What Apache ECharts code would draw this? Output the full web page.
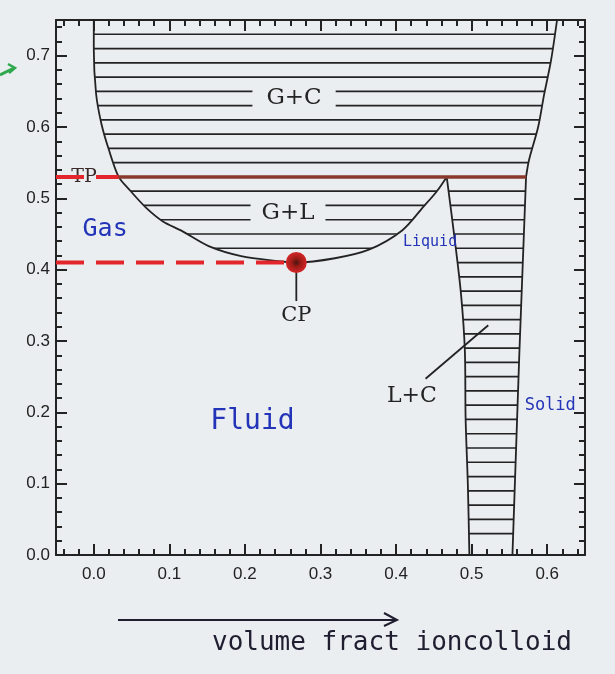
<!DOCTYPE html>
<html>
<head>
<meta charset="utf-8">
<script src="https://cdn.jsdelivr.net/npm/echarts@6/dist/echarts.min.js"></script>
<style>
  html, body { margin: 0; padding: 0; background: #eaeef0; }
  #chart { width: 615px; height: 674px; }
</style>
</head>
<body>
<div id="chart"></div>
<script>
// Axis ranges: x = colloid volume fraction, y = polymer concentration
const X_RANGE = [-0.05, 0.65];
const Y_RANGE = [0, 0.75];

const xTickValues = [0, 0.1, 0.2, 0.3, 0.4, 0.5, 0.6];
const xTickLabels = ['0.0', '0.1', '0.2', '0.3', '0.4', '0.5', '0.6'];
const yTickValues = [0, 0.1, 0.2, 0.3, 0.4, 0.5, 0.6, 0.7];
const yTickLabels = ['0.0', '0.1', '0.2', '0.3', '0.4', '0.5', '0.6', '0.7'];

// Gas / crystal boundary above the triple point (top edge down to the gas triple point)
const gcLeftBoundary = [[0.0, 0.75], [0.0, 0.709], [0.003, 0.647], [0.010, 0.605], [0.020, 0.568], [0.033, 0.53]];
// Gas branch of the gas-liquid binodal, down to the critical point
const gasBinodal = [[0.033, 0.53], [0.048, 0.511], [0.069, 0.487], [0.091, 0.468], [0.117, 0.454], [0.152, 0.433], [0.195, 0.419], [0.244, 0.412], [0.268, 0.41]];
// Liquid branch, from the critical point up to the liquid triple point
const liquidBinodal = [[0.268, 0.41], [0.319, 0.416], [0.364, 0.428], [0.408, 0.455], [0.436, 0.488], [0.454, 0.51], [0.467, 0.53]];
// Liquidus (left edge of L+C) and solidus (right edge of L+C)
const liquidus = [[0.467, 0.53], [0.478, 0.439], [0.486, 0.365], [0.491, 0.287], [0.492, 0.192], [0.495, 0.098], [0.497, 0]];
const solidus = [[0.572, 0.53], [0.563, 0.279], [0.554, 0]];
// Crystal side of the gas + crystal region
const gcRightBoundary = [[0.572, 0.53], [0.576, 0.554], [0.588, 0.60], [0.596, 0.646], [0.605, 0.693], [0.613, 0.75]];

const triplePointLine = [[0.033, 0.53], [0.572, 0.53]];
const criticalPoint = [0.268, 0.41];
const tpGuide = [[-0.05, 0.53], [0.033, 0.53]];
const cpGuide = [[-0.05, 0.41], [0.268, 0.41]];
const cpLeader = [[0.268, 0.40], [0.268, 0.356]];
const lcLeader = [[0.439, 0.247], [0.522, 0.322]];

// Tie lines drawn inside the two-phase regions
const hatchLevels = [0.03, 0.05, 0.07, 0.09, 0.11, 0.13, 0.15, 0.17, 0.19, 0.21, 0.23, 0.25, 0.27, 0.29,
  0.31, 0.33, 0.35, 0.37, 0.39, 0.41, 0.43, 0.45, 0.47, 0.49, 0.51, 0.55, 0.57, 0.59, 0.61, 0.63,
  0.65, 0.67, 0.69, 0.71, 0.73];

// Text annotations: [x, y, text]
const annotations = [
  [0.265, 0.64, 'G+C'],
  [0.257, 0.48, 'G+L'],
  [0.268, 0.335, 'CP'],
  [0.421, 0.222, 'L+C'],
  [-0.013, 0.53, 'TP'],
  [0.015, 0.456, 'Gas'],
  [0.445, 0.439, 'Liquid'],
  [0.21, 0.187, 'Fluid'],
  [0.604, 0.21, 'Solid']
];

const INK = '#232323';
const PAPER = '#eaeef0';
const BLUE = '#2434b8';
const serif = "'DejaVu Serif', 'Liberation Serif', serif";
const hand = "'DejaVu Sans Mono', monospace";

const textStyles = {
  'G+C': { font: '23px ' + serif, fill: INK, backgroundColor: PAPER, padding: [2, 14] },
  'G+L': { font: '23px ' + serif, fill: INK, backgroundColor: PAPER, padding: [2, 11] },
  'CP': { font: '21px ' + serif, fill: INK },
  'L+C': { font: '22px ' + serif, fill: INK },
  'TP': { font: '19px ' + serif, fill: '#3a2a2a' },
  'Gas': { font: '25px ' + hand, fill: BLUE },
  'Liquid': { font: '15px ' + hand, fill: BLUE },
  'Fluid': { font: '28px ' + hand, fill: BLUE },
  'Solid': { font: '17px ' + hand, fill: BLUE }
};

// Region outlines used to clip the tie lines: G+C, G+L, L+C
const regions = [
  gcLeftBoundary.concat(gcRightBoundary),
  gasBinodal.concat(liquidBinodal.slice(1)),
  liquidus.concat(solidus.slice().reverse())
];

function minorTicks(lo, hi) {
  const out = [];
  for (let i = Math.ceil(lo / 0.02 - 1e-9); i * 0.02 <= hi + 1e-9; i++) {
    if (i % 5 !== 0) out.push(+(i * 0.02).toFixed(2));
  }
  return out;
}
const xMinor = minorTicks(X_RANGE[0], X_RANGE[1]);
const yMinor = minorTicks(Y_RANGE[0], Y_RANGE[1]);

function axis(position, range, ticks, tickLen, opts) {
  const base = {
    type: 'value', position: position, min: range[0], max: range[1],
    axisLine: { show: !!opts.line, onZero: false, lineStyle: { color: INK, width: 2 } },
    axisTick: { show: true, inside: true, length: tickLen, customValues: ticks, lineStyle: { color: INK, width: 2 } },
    axisLabel: { show: false },
    splitLine: { show: false }
  };
  if (opts.labels) {
    base.axisLabel = {
      show: true, customValues: ticks, margin: opts.margin,
      color: '#222', fontSize: 17, fontFamily: "'Liberation Sans', Arial, sans-serif",
      formatter: function (v) {
        return opts.labels[opts.values.indexOf(v)];
      }
    };
  }
  return base;
}

const xAxes = [
  axis('bottom', X_RANGE, xTickValues, 11, { line: true, labels: xTickLabels, values: xTickValues, margin: 11 }),
  axis('bottom', X_RANGE, xMinor, 6, {}),
  axis('top', X_RANGE, xTickValues, 11, { line: true }),
  axis('top', X_RANGE, xMinor, 6, {})
];
const yAxes = [
  axis('left', Y_RANGE, yTickValues, 11, { line: true, labels: yTickLabels, values: yTickValues, margin: 6 }),
  axis('left', Y_RANGE, yMinor, 6, {}),
  axis('right', Y_RANGE, yTickValues, 11, { line: true }),
  axis('right', Y_RANGE, yMinor, 6, {})
];

function curve(data, color, width, z, extra) {
  return Object.assign({
    type: 'line', data: data, xAxisIndex: 0, yAxisIndex: 0,
    symbol: 'none', silent: true, z: z,
    lineStyle: { color: color, width: width }
  }, extra || {});
}

const chart = echarts.init(document.getElementById('chart'), null, { renderer: 'canvas' });

chart.setOption({
  backgroundColor: PAPER,
  animation: false,
  grid: { left: 56, top: 20, width: 529, height: 535, outerBoundsMode: 'none' },
  xAxis: xAxes,
  yAxis: yAxes,
  graphic: [
    // arrow over the axis title
    { type: 'line', shape: { x1: 118, y1: 620, x2: 396, y2: 620 }, style: { stroke: '#1e1e30', lineWidth: 2 } },
    { type: 'polyline', shape: { points: [[384, 613], [397, 620], [384, 626]] }, style: { stroke: '#1e1e30', lineWidth: 2, fill: null } },
    { type: 'text', x: 392, y: 643, style: { text: 'volume fract ioncolloid', font: "26px 'DejaVu Sans Mono', monospace", fill: '#1e1e30', align: 'center', verticalAlign: 'middle' } },
    // green pointer next to 0.7
    { type: 'polyline', shape: { points: [[0, 75], [14, 68]] }, style: { stroke: '#2fa84e', lineWidth: 3, fill: null } },
    { type: 'polyline', shape: { points: [[8, 64], [15, 68], [9, 73]] }, style: { stroke: '#2fa84e', lineWidth: 2.5, fill: null } }
  ],
  series: [
    {
      type: 'custom', xAxisIndex: 0, yAxisIndex: 0, z: 2, silent: true,
      data: regions.map(function (r) { return r[0]; }),
      renderItem: function (params, api) {
        const poly = regions[params.dataIndex].map(function (p) { return api.coord(p); });
        const xl = api.coord([X_RANGE[0], 0])[0];
        const xr = api.coord([X_RANGE[1], 0])[0];
        const children = hatchLevels.map(function (v) {
          const y = api.coord([0, v])[1];
          return { type: 'line', shape: { x1: xl, y1: y, x2: xr, y2: y }, style: { stroke: INK, lineWidth: 1.7 } };
        });
        return { type: 'group', clipPath: { type: 'polygon', shape: { points: poly } }, children: children };
      }
    },
    curve(gcLeftBoundary.concat(gasBinodal.slice(1), liquidBinodal.slice(1)), INK, 1.8, 3, { smooth: 0.3 }),
    curve(liquidus, INK, 1.8, 3, { smooth: 0.3 }),
    curve(solidus, INK, 1.8, 3),
    curve(gcRightBoundary, INK, 1.8, 3, { smooth: 0.3 }),
    curve(triplePointLine, '#8a3a2c', 3.5, 4),
    curve(cpLeader, INK, 1.8, 4),
    curve(lcLeader, INK, 1.8, 4),
    {
      type: 'custom', xAxisIndex: 0, yAxisIndex: 0, z: 5, silent: true,
      data: annotations.map(function (a) { return [a[0], a[1]]; }),
      renderItem: function (params, api) {
        const a = annotations[params.dataIndex];
        const pt = api.coord([a[0], a[1]]);
        const st = Object.assign({ text: a[2], align: 'center', verticalAlign: 'middle' }, textStyles[a[2]]);
        return { type: 'text', x: pt[0], y: pt[1], style: st };
      }
    },
    curve(tpGuide, '#e3262b', 4, 6, { lineStyle: { color: '#e3262b', width: 4, type: [28, 12] } }),
    curve(cpGuide, '#e3262b', 4, 6, { lineStyle: { color: '#e3262b', width: 4, type: [28, 12] } }),
    {
      type: 'scatter', xAxisIndex: 0, yAxisIndex: 0, z: 7, silent: true,
      data: [criticalPoint], symbolSize: 21,
      itemStyle: {
        opacity: 1,
        color: {
          type: 'radial', x: 0.5, y: 0.5, r: 0.5,
          colorStops: [
            { offset: 0, color: '#4a1410' },
            { offset: 0.45, color: '#a11c18' },
            { offset: 1, color: '#d42628' }
          ]
        }
      }
    }
  ]
});
</script>
</body>
</html>
